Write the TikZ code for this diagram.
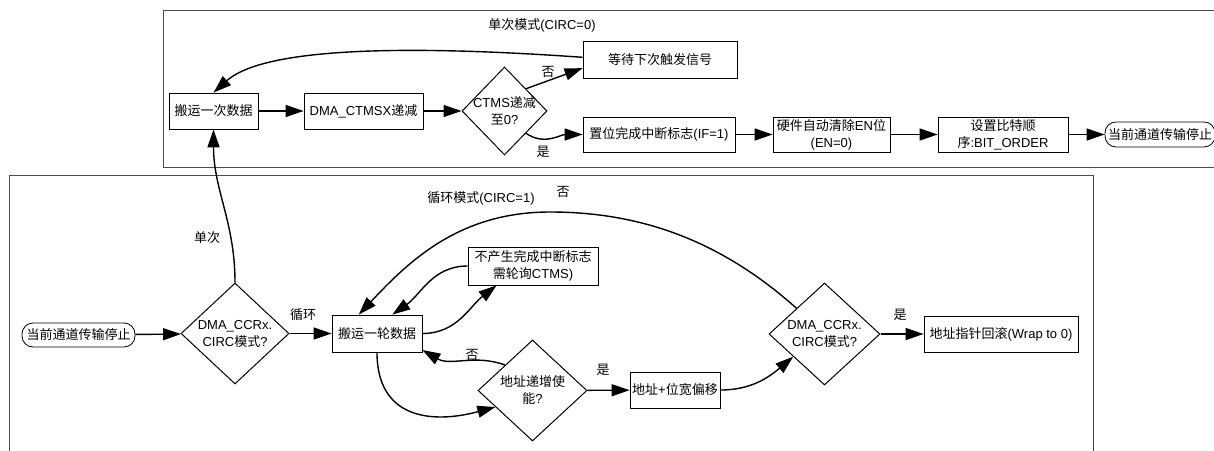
\documentclass[tikz,border=0pt]{standalone}
\usepackage{fontspec}
\setmainfont{Liberation Sans}
\newfontfamily\zhfont{Noto Sans CJK SC}
\newcommand{\zh}[1]{{\zhfont #1}}
\usetikzlibrary{shapes.geometric, arrows.meta}

\begin{document}
\begin{tikzpicture}[x=1pt, y=-1pt, >={Triangle[length=18pt, width=12pt]},
    every node/.style={font=\fontsize{13}{17}\selectfont, align=center},
    box/.style={draw, line width=0.8pt, inner sep=2pt, minimum height=36pt},
    decide/.style={draw, diamond, line width=1pt, inner sep=-8pt},
    term/.style={draw, rounded corners=11pt, line width=0.8pt, inner sep=3pt, minimum height=25pt},
    flow/.style={->, line width=1.4pt},
    panel/.style={draw=black!70, line width=1pt}]
    \useasboundingbox (0,0) rectangle (1214,450);
    \clip (0,0) rectangle (1214,450);

    % Rahmen
    \draw[panel] (163,10) rectangle (1240,167);
    \draw[panel] (9,175) rectangle (1093,470);

    % 单次模式
    \node (lblone) at (542,25) {\zh{单次模式}(CIRC=0)};
    \node[box, minimum width=89pt] (once) at (213.5,111) {\zh{搬运一次数据}};
    \node[box, minimum width=119pt] (ctmsx) at (363.5,111) {DMA\_CTMSX\zh{递减}};
    \node[decide, minimum width=85pt, minimum height=88pt] (ctmszero) at (504.5,111) {CTMS\zh{递减}\\\zh{至}0?};
    \node[box, minimum width=154pt, minimum height=37pt] (wait) at (660,60) {\zh{等待下次触发信号}};
    \node[box, minimum width=152pt, minimum height=35pt] (setif) at (659,134.5) {\zh{置位完成中断标志}(IF=1)};
    \node[box, minimum width=117pt, minimum height=35pt] (clren) at (831.5,134.5) {\zh{硬件自动清除}EN\zh{位}\\(EN=0)};
    \node[box, minimum width=130pt, minimum height=35pt] (bitord) at (1003,134.5) {\zh{设置比特顺}\\\zh{序}:BIT\_ORDER};
    \node[term, minimum width=110pt] (stopA) at (1160,134.5) {\zh{当前通道传输停止}};
    \node (lblnoA) at (548,72) {\zh{否}};
    \node (lblyesA) at (543,152) {\zh{是}};

    \draw[flow] (once) -- (ctmsx);
    \draw[flow] (ctmsx) -- (ctmszero);
    \draw[flow] (ctmszero.north east) -- (wait.186);
    \draw[flow] (wait.178) .. controls (450,48) and (270,42) .. (once.north);
    \draw[flow] (ctmszero.south east) to[out=-35, in=180] (setif.west);
    \draw[flow] (setif) -- (clren);
    \draw[flow] (clren) -- (bitord);
    \draw[flow] (bitord) -- (stopA);

    % 循环模式
    \node (lblcirc) at (481,198) {\zh{循环模式}(CIRC=1)};
    \node[term, minimum width=113pt, minimum height=24pt] (stopB) at (78.5,335) {\zh{当前通道传输停止}};
    \node[decide, minimum width=108pt, minimum height=101pt] (circA) at (235,333.5) {DMA\_CCRx.\\CIRC\zh{模式}?};
    \node[box, minimum width=90pt, minimum height=37pt] (round) at (377,333.5) {\zh{搬运一轮数据}};
    \node[box, minimum width=130pt, minimum height=38pt] (noint) at (533,266) {\zh{不产生完成中断标志}\\\zh{需轮询}CTMS)};
    \node[decide, minimum width=109pt, minimum height=101pt] (incen) at (532.5,390.5) {\zh{地址递增使}\\\zh{能}?};
    \node[box, minimum width=90pt, minimum height=36pt] (offset) at (675,390) {\zh{地址}+\zh{位宽偏移}};
    \node[decide, minimum width=111pt, minimum height=102pt] (circB) at (824.5,334) {DMA\_CCRx.\\CIRC\zh{模式}?};
    \node[box, minimum width=154pt, minimum height=36pt] (wrap) at (1001,334) {\zh{地址指针回滚}(Wrap to 0)};
    \node (lblsingle) at (207,238) {\zh{单次}};
    \node (lblloop) at (303,315) {\zh{循环}};
    \node (lblnoB) at (563,192) {\zh{否}};
    \node (lblnoC) at (472,355) {\zh{否}};
    \node (lblyesB) at (603,370) {\zh{是}};
    \node (lblyesC) at (900,315) {\zh{是}};

    \draw[flow] (stopB) -- (circA);
    \draw[flow] (circA) -- (round);
    \draw[flow] (circA.north) to[out=90, in=-90] (once.south);
    \draw[flow] (round.east) to[out=0, in=-142] (noint.208);
    \draw[flow] (noint.west) to[out=180, in=35] (round.51);
    \draw[flow] (circB.north west) .. controls (720,240) and (640,212) .. (550,212)
        .. controls (460,212) and (410,260) .. (round.134);
    \draw[flow] (incen.north west) to[out=160, in=-30] (round.-20);
    \draw[flow] (round.south) to[out=-90, in=195, looseness=1.3] (incen.204);
    \draw[flow] (incen) -- (offset);
    \draw[flow] (offset.east) to[out=0, in=-140] (circB.216);
    \draw[flow] (circB) -- (wrap);
\end{tikzpicture}
\end{document}
